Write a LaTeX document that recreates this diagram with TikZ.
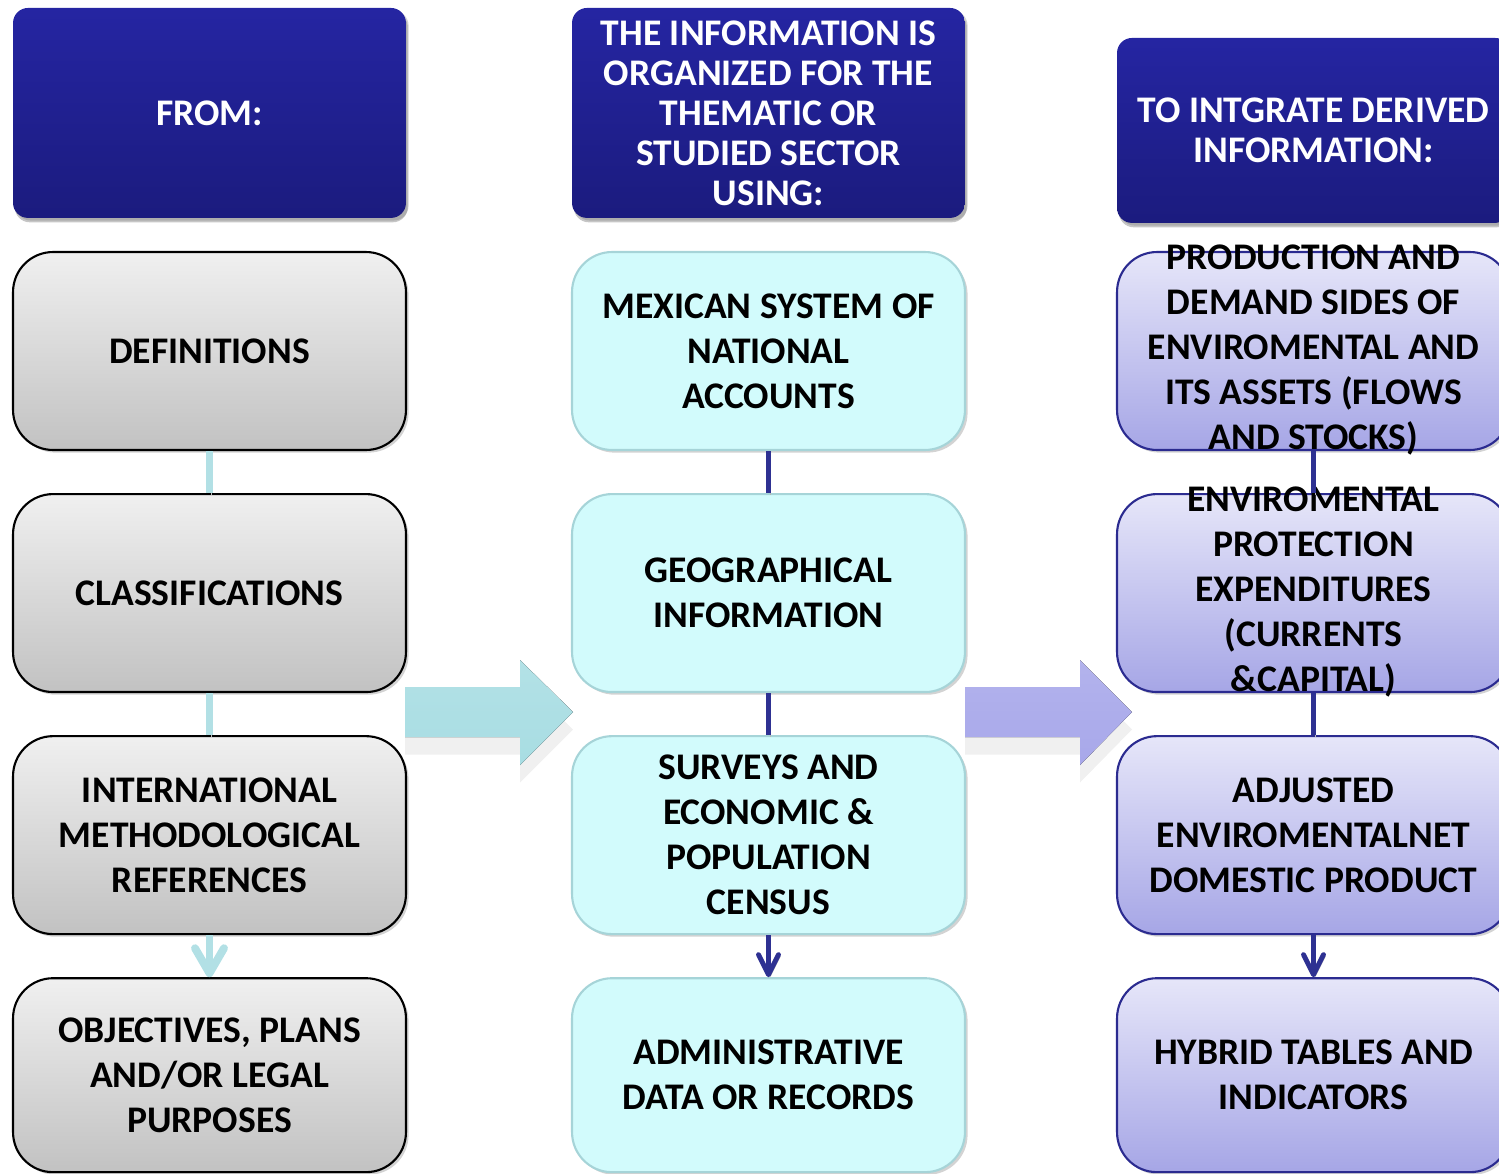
\documentclass[tikz,border=0pt]{standalone}
\usepackage{fontspec}
\setmainfont{Carlito}
\usetikzlibrary{positioning,shadows,arrows.meta}

\definecolor{headblue}{RGB}{37,37,162}
\definecolor{headdark}{RGB}{27,27,126}
\definecolor{linkcyan}{RGB}{178,224,229}
\definecolor{linkblue}{RGB}{46,49,146}
\definecolor{cyanfill}{RGB}{210,251,252}
\definecolor{cyanedge}{RGB}{166,212,216}
\definecolor{lavtop}{RGB}{230,230,249}
\definecolor{lavbottom}{RGB}{166,166,230}
\definecolor{lavedge}{RGB}{43,43,144}
\definecolor{arrowcyan}{RGB}{160,218,224}
\definecolor{arrowlav}{RGB}{160,160,232}

% text that may run over the box edge
\newcommand{\spill}[1]{\raisebox{-9.5pt}{\smash{\begin{tabular}{@{}c@{}}#1\end{tabular}}}}

\begin{document}
\begin{tikzpicture}[x=0.02cm, y=-0.02cm,
                    node distance=0.84cm,
                    font=\fontsize{21.4}{25.6}\selectfont\bfseries]
    \tikzstyle{box}=[rectangle, rounded corners=0.8cm, minimum width=7.86cm, minimum height=3.96cm,
                     inner sep=2pt, align=center, line width=1.2pt,
                     drop shadow={shadow xshift=1.5pt, shadow yshift=-1.5pt, opacity=0.35}]
    \tikzstyle{header}=[box, rounded corners=0.3cm, minimum height=4.2cm, draw=none,
                        top color=headblue, bottom color=headdark, text=white,
                        font=\fontsize{21.4}{22.8}\selectfont\bfseries,
                        drop shadow={shadow xshift=1pt, shadow yshift=-2.5pt, opacity=0.45}]
    \tikzstyle{source}=[box, top color=gray!12, bottom color=gray!48, draw=black]
    \tikzstyle{tool}=[box, fill=cyanfill, draw=cyanedge]
    \tikzstyle{result}=[box, top color=lavtop, bottom color=lavbottom, draw=lavedge]
    \tikzstyle{cyanlink}=[draw=linkcyan, line width=4.5pt,
                          preaction={draw=gray!55, transform canvas={xshift=1pt, yshift=-1pt}}]
    \tikzstyle{bluelink}=[draw=linkblue, line width=2.8pt,
                          preaction={draw=gray!55, transform canvas={xshift=1pt, yshift=-1pt}}]
    \tikzstyle{bigarrow}=[drop shadow={shadow xshift=0pt, shadow yshift=-0.35cm, opacity=0.12}]

    \useasboundingbox (0,0) rectangle (1499,1174);

    % first column
    \node[source] (def) at (209.5,351) {DEFINITIONS};
    \node[source, below=of def] (cls) {CLASSIFICATIONS};
    \node[source, below=of cls] (intl) {INTERNATIONAL\\METHODOLOGICAL\\REFERENCES};
    \node[source, below=of intl, minimum height=3.88cm] (obj) {OBJECTIVES, PLANS\\AND/OR LEGAL\\PURPOSES};

    % second column
    \node[tool, right=3.28cm of def] (scn) {MEXICAN SYSTEM OF\\NATIONAL\\ACCOUNTS};
    \node[tool, below=of scn] (geo) {GEOGRAPHICAL\\INFORMATION};
    \node[tool, below=of geo] (cen) {SURVEYS AND\\ECONOMIC \&\\POPULATION\\CENSUS};
    \node[tool, below=of cen, minimum height=3.88cm] (adm) {ADMINISTRATIVE\\DATA OR RECORDS};

    % third column
    \node[result, right=3.0cm of scn] (prod) {\spill{PRODUCTION AND\\DEMAND SIDES OF\\ENVIROMENTAL AND\\ITS ASSETS (FLOWS\\AND STOCKS)}};
    \node[result, below=of prod] (exp) {\spill{ENVIROMENTAL\\PROTECTION\\EXPENDITURES\\(CURRENTS\\\&CAPITAL)}};
    \node[result, below=of exp] (ndp) {ADJUSTED\\ENVIROMENTALNET\\DOMESTIC PRODUCT};
    \node[result, below=of ndp, minimum height=3.88cm] (hyb) {HYBRID TABLES AND\\INDICATORS};

    % headers
    \node[header, above=0.64cm of def] (hfrom) {FROM:};
    \node[header, above=0.64cm of scn] (husing) {THE INFORMATION IS\\ORGANIZED FOR THE\\THEMATIC OR\\STUDIED SECTOR\\USING:};
    \node[header, above=0.54cm of prod, minimum height=3.7cm] (hto) {TO INTGRATE DERIVED\\INFORMATION:};

    % links
    \draw[cyanlink] (def) -- (cls);
    \draw[cyanlink] (cls) -- (intl);
    \draw[cyanlink, -{Straight Barb[length=0.5cm, width=0.58cm, round]}] (intl) -- (obj);
    \draw[bluelink] (scn) -- (geo);
    \draw[bluelink] (geo) -- (cen);
    \draw[bluelink, -{Straight Barb[length=0.4cm, width=0.4cm, round]}] (cen) -- (adm);
    \draw[bluelink] (prod) -- (exp);
    \draw[bluelink] (exp) -- (ndp);
    \draw[bluelink, -{Straight Barb[length=0.4cm, width=0.4cm, round]}] (ndp) -- (hyb);

    % block arrows
    \fill[bigarrow, top color=arrowcyan!80, bottom color=arrowcyan!100!black!92]
        (405,687) -- (520,687) -- (520,660) -- (573,712) -- (520,765) -- (520,737) -- (405,737) -- cycle;
    \fill[bigarrow, top color=arrowlav!80, bottom color=arrowlav!100!black!92]
        (965,687) -- (1080,687) -- (1080,660) -- (1132,712) -- (1080,765) -- (1080,737) -- (965,737) -- cycle;
\end{tikzpicture}
\end{document}
